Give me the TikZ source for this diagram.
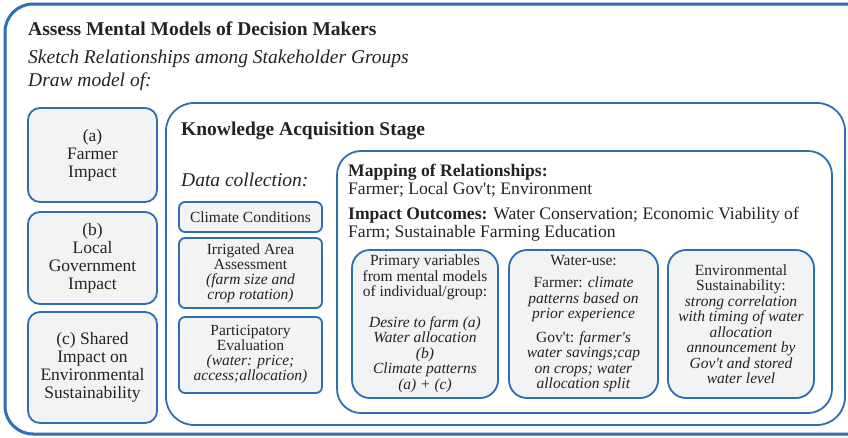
\documentclass[tikz,border=0pt]{standalone}
\usepackage{fontspec}
\setmainfont{Liberation Serif}[Ligatures=TeXOff]
\definecolor{frameblue}{RGB}{46,110,178}
\definecolor{boxgray}{RGB}{242,243,243}
\definecolor{inkgray}{RGB}{35,35,35}

\begin{document}
\begin{tikzpicture}[x=1pt,y=-1pt,
			every node/.style={text=inkgray,inner sep=0pt},
			frame box/.style={draw=frameblue,line width=1.8pt,rounded corners=28pt,fill=white},
			impact box/.style={draw=frameblue,line width=1.8pt,rounded corners=12pt,fill=boxgray,
				align=center,font=\fontsize{17.5}{18}\selectfont},
			data box/.style={draw=frameblue,line width=1.8pt,rounded corners=6pt,fill=boxgray,
				align=center,font=\fontsize{15.5}{15}\selectfont},
			outcome box/.style={draw=frameblue,line width=1.8pt,rounded corners=18pt,fill=boxgray,
				align=center,font=\fontsize{15.5}{15.5}\selectfont},
			heading/.style={anchor=base west,font=\fontsize{19.5}{20}\selectfont}
			]
			
			\path[use as bounding box,clip] (0,0) rectangle (848,437);
			
			% nested frames
			\node[frame box,line width=3pt,minimum width=885pt,minimum height=430pt] (outer) at (447.5,219) {};
			\node[frame box,minimum width=679pt,minimum height=322pt] (stage) at (505.5,264) {};
			\node[frame box,rounded corners=24pt,minimum width=495pt,minimum height=262pt] (mapping) at (584.5,282) {};
			
			\node[heading,font=\bfseries\fontsize{19.5}{20}\selectfont] (title) at (28,35) {Assess Mental Models of Decision Makers};
			\node[heading,font=\itshape\fontsize{19.5}{20}\selectfont] (sketch) at (28,63) {Sketch Relationships among Stakeholder Groups};
			\node[heading,font=\itshape\fontsize{19.5}{20}\selectfont] (drawof) at (28,86) {Draw model of:};
			
			% stakeholder impacts
			\node[impact box,minimum width=129pt,minimum height=94pt] (farmer) at (92.5,155) {(a)\\Farmer\\Impact};
			\node[impact box,minimum width=129pt,minimum height=92pt] (gov) at (92.5,258) {(b)\\Local\\Government\\Impact};
			\node[impact box,minimum width=129pt,minimum height=111pt] (shared) at (92.5,367.5) {(c) Shared\\Impact on\\Environmental\\Sustainability};
			
			\node[heading,font=\bfseries\fontsize{19.5}{20}\selectfont] (stagetitle) at (181,135) {Knowledge Acquisition Stage};
			\node[heading,font=\itshape\fontsize{19.5}{20}\selectfont] (datatitle) at (181,186) {Data collection:};
			
			% data collection
			\node[data box,minimum width=143pt,minimum height=30pt] (climate) at (250.5,217) {Climate Conditions};
			\node[data box,minimum width=143pt,minimum height=70pt] (irrigated) at (250.5,273) {Irrigated Area\\Assessment\\\textit{(farm size and}\\\textit{crop rotation)}};
			\node[data box,minimum width=143pt,minimum height=76pt] (particip) at (250.5,355) {Participatory\\Evaluation\\\textit{(water: price;}\\\textit{access;allocation)}};
			
			\node[anchor=north west,align=left,font=\fontsize{17.6}{18}\selectfont] (maptext) at (348,164)
			{\textbf{Mapping of Relationships:}\\Farmer; Local Gov't; Environment\\[7pt]
				\textbf{Impact Outcomes:} Water Conservation; Economic Viability of\\Farm; Sustainable Farming Education};
			
			% outcomes
			\node[outcome box,minimum width=146pt,minimum height=148pt] (primary) at (425,324)
			{Primary variables\\from mental models\\of individual/group:\\[15pt]
				\textit{Desire to farm (a)}\\\textit{Water allocation}\\\textit{(b)}\\\textit{Climate patterns}\\\textit{(a) + (c)}};
			\node[outcome box,minimum width=149pt,minimum height=148pt] (wateruse) at (583.5,324)
			{Water-use:\\[6.5pt]Farmer: \textit{climate}\\\textit{patterns based on}\\\textit{prior experience}\\[8pt]
				Gov't: \textit{farmer's}\\\textit{water savings;cap}\\\textit{on crops; water}\\\textit{allocation split}};
			\node[outcome box,minimum width=146pt,minimum height=148pt] (envsust) at (741,324)
			{Environmental\\Sustainability:\\\textit{strong correlation}\\\textit{with timing of water}\\\textit{allocation}\\\textit{announcement by}\\\textit{Gov't and stored}\\\textit{water level}};
			
\end{tikzpicture}
\end{document}
